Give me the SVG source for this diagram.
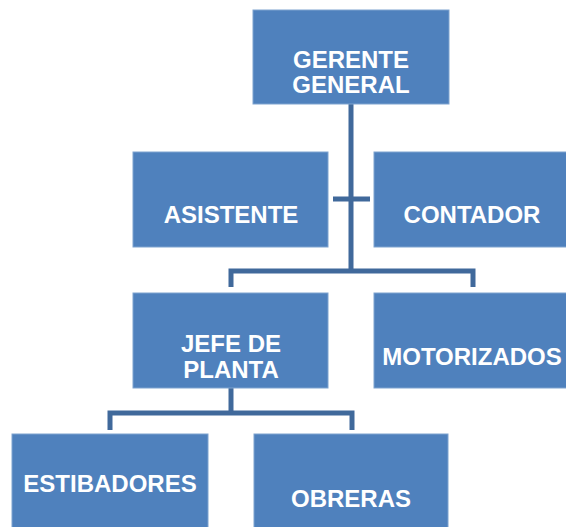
<svg xmlns="http://www.w3.org/2000/svg" width="566" height="527" viewBox="0 0 566 527">
<style>
.box{fill:#4F81BD;stroke:#7FA3CF;stroke-width:1}
.t{font-family:"Liberation Sans",Arial,sans-serif;font-weight:bold;font-size:24px;fill:#FFFFFF;text-anchor:middle}
.c{fill:none;stroke:#40699B;stroke-width:5;stroke-linejoin:miter}
</style>
<rect width="566" height="527" fill="#FFFFFF"/>
<g id="connectors">
<path class="c" d="M351,104 V271"/>
<path class="c" d="M333,199 H370"/>
<path class="c" d="M231,287 V271 H473 V287"/>
<path class="c" d="M231,388 V413"/>
<path class="c" d="M110,430 V413 H352 V430"/>
</g>
<g id="gerente">
<rect class="box" x="253" y="10" width="196" height="94"/>
<text class="t" x="351" y="68">GERENTE</text>
<text class="t" x="351" y="93">GENERAL</text>
</g>
<g id="asistente">
<rect class="box" x="133" y="152" width="195" height="95"/>
<text class="t" x="231" y="223">ASISTENTE</text>
</g>
<g id="contador">
<rect class="box" x="374" y="152" width="195" height="95"/>
<text class="t" x="472" y="223">CONTADOR</text>
</g>
<g id="jefe">
<rect class="box" x="133" y="293" width="195" height="95"/>
<text class="t" x="231" y="352">JEFE DE</text>
<text class="t" x="231" y="378">PLANTA</text>
</g>
<g id="motorizados">
<rect class="box" x="374" y="293" width="195" height="95"/>
<text class="t" x="472" y="365">MOTORIZADOS</text>
</g>
<g id="estibadores">
<rect class="box" x="12" y="434" width="196" height="96"/>
<text class="t" x="110" y="492">ESTIBADORES</text>
</g>
<g id="obreras">
<rect class="box" x="254" y="434" width="194" height="96"/>
<text class="t" x="351" y="507">OBRERAS</text>
</g>
</svg>
